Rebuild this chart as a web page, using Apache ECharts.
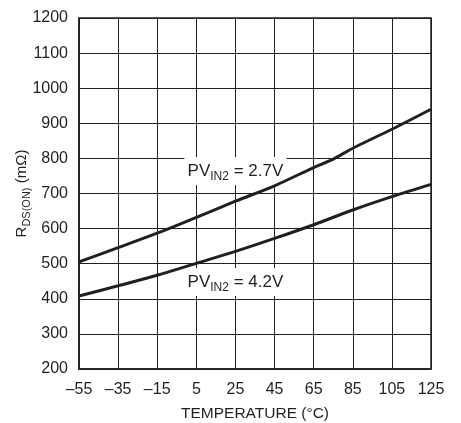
<!DOCTYPE html>
<html>
<head>
<meta charset="utf-8">
<script src="https://cdn.jsdelivr.net/npm/echarts@6/dist/echarts.min.js"></script>
<style>
html,body{margin:0;padding:0;background:#fff;}
#chart{width:461px;height:423px;}
</style>
</head>
<body>
<div id="chart"></div>
<script>
// Data
const temps27 = [-55, -35, -15, 5, 25, 45, 65, 75, 85, 105, 125];
const rds27   = [505, 546, 587, 632, 678, 722, 774, 798, 829, 883, 940];
const temps42 = [-55, -35, -15, 5, 25, 45, 65, 85, 105, 125];
const rds42   = [408, 437, 467, 501, 535, 572, 611, 653, 691, 726];
const xTicks = [-55, -35, -15, 5, 25, 45, 65, 85, 105, 125];
const yTicks = [200, 300, 400, 500, 600, 700, 800, 900, 1000, 1100, 1200];
const labels = [
  { x: 25, y: 764, pre: 'PV', sub: 'IN2', post: ' = 2.7V' },
  { x: 25, y: 448, pre: 'PV', sub: 'IN2', post: ' = 4.2V' }
];

const ink = '#231f20';
const font = '"Liberation Sans", Arial, sans-serif';

const chart = echarts.init(document.getElementById('chart'));
const option = {
  animation: false,
  backgroundColor: '#fff',
  grid: { left: 79, right: 30, top: 18, bottom: 54, show: true,
          outerBoundsMode: 'none', containLabel: false,
          borderColor: ink, borderWidth: 1.5, backgroundColor: 'transparent' },
  xAxis: {
    type: 'value', min: xTicks[0], max: xTicks[xTicks.length - 1], interval: 20,
    name: 'TEMPERATURE (°C)', nameLocation: 'middle', nameGap: 37,
    nameMoveOverlap: false,
    nameTextStyle: { fontFamily: font, fontSize: 15.5, color: ink },
    axisLine: { show: true, onZero: false, lineStyle: { color: ink, width: 1.5 } },
    axisTick: { show: false },
    axisLabel: { margin: 13, fontFamily: font, fontSize: 16, color: ink,
                 formatter: v => String(v).replace('-', '\u2013') },
    splitLine: { show: true, lineStyle: { color: ink, width: 1 } }
  },
  yAxis: {
    type: 'value', min: yTicks[0], max: yTicks[yTicks.length - 1], interval: 100,
    name: '{r|R}{s|DS(ON)}{r| (mΩ)}', nameLocation: 'middle', nameGap: 47,
    nameMoveOverlap: false,
    nameTextStyle: { fontFamily: font, color: ink,
      rich: {
        r: { fontFamily: font, fontSize: 15, color: ink },
        s: { fontFamily: font, fontSize: 11, color: ink, padding: [10, 0, 0, 0] }
      } },
    axisLine: { show: true, onZero: false, lineStyle: { color: ink, width: 1.5 } },
    axisTick: { show: false },
    axisLabel: { margin: 11, fontFamily: font, fontSize: 16, color: ink,
                 formatter: v => String(v) },
    splitLine: { show: true, lineStyle: { color: ink, width: 1 } }
  },
  series: [
    { type: 'line', data: temps27.map((t, i) => [t, rds27[i]]), smooth: 0.3,
      symbol: 'none', lineStyle: { color: ink, width: 3 }, z: 3 },
    { type: 'line', data: temps42.map((t, i) => [t, rds42[i]]), smooth: 0.3,
      symbol: 'none', lineStyle: { color: ink, width: 3 }, z: 3 }
  ]
};
chart.setOption(option);

const graphics = [];
labels.forEach(l => {
  const p = chart.convertToPixel({ gridIndex: 0 }, [l.x, l.y]);
  graphics.push({
    type: 'rect', z: 1,
    shape: { x: p[0] - 51, y: p[1] - 14, width: 102, height: 28 },
    style: { fill: '#fff' }
  });
  graphics.push({
    type: 'text', z: 2, x: p[0], y: p[1],
    style: {
      text: '{b|' + l.pre + '}{s|' + l.sub + '}{b|' + l.post + '}',
      align: 'center', verticalAlign: 'middle',
      rich: {
        b: { fontFamily: font, fontSize: 17, fill: ink },
        s: { fontFamily: font, fontSize: 12, fill: ink, padding: [11, 0, 0, 0] }
      }
    }
  });
});
chart.setOption({ graphic: graphics });
</script>
</body>
</html>
